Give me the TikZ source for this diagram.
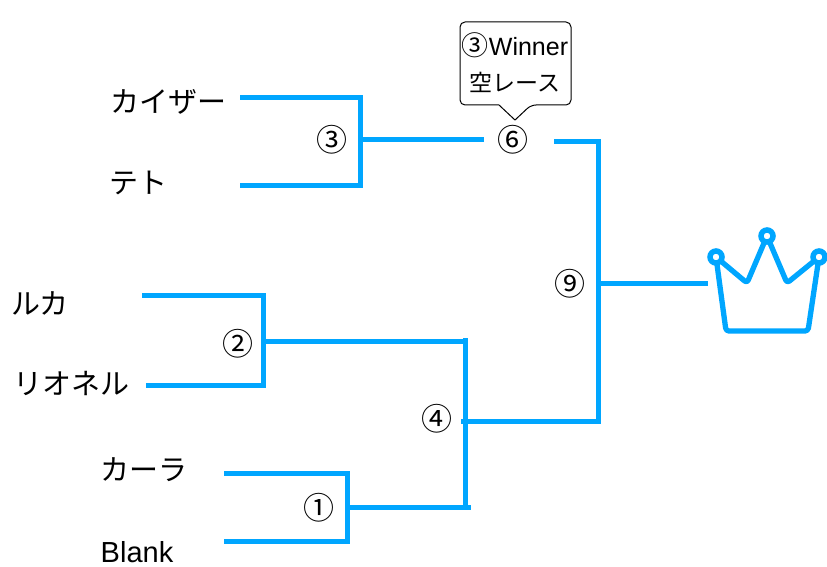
\documentclass[tikz,border=0pt]{standalone}
\usepackage{fontspec}
\setmainfont{Liberation Sans}
\newfontfamily\jpfont{Noto Sans CJK JP}
\definecolor{wireblue}{HTML}{00A6FF}
\tikzset{
  x=1pt,y=-1pt,
  wire/.style={draw=wireblue,line width=5pt,line cap=butt,line join=miter},
  crownline/.style={draw=wireblue,line width=5.3pt,line join=round,line cap=round,rounded corners=3pt},
  ball/.style={circle,draw=wireblue,line width=5.5pt,fill=white,minimum size=12pt,inner sep=0pt,outer sep=0pt},
  player/.style={inner sep=0pt,font=\jpfont\fontsize{29}{31}\selectfont},
  blankname/.style={inner sep=0pt,font=\fontsize{29}{31}\selectfont},
  seed/.style={inner sep=0pt,font=\jpfont\fontsize{31}{33}\selectfont},
  bubbletext/.style={inner sep=0pt,font=\jpfont\fontsize{23}{25}\selectfont},
}
\begin{document}
\begin{tikzpicture}
\useasboundingbox (0,0) rectangle (827,567);
% callout
\draw[black,line width=1pt,rounded corners=5pt,fill=white]
  (499,105) -- (460,105) -- (460,22) -- (571,22) -- (571,105) -- (531,105)
  [sharp corners] -- (515,120) -- cycle;
\node[bubbletext] (winner) at (515,45) {{\fontsize{27}{27}\selectfont ③}\fontspec{Liberation Sans}\fontsize{25}{27}\selectfont Winner};
\node[bubbletext] (sora) at (515,82) {空レース};
% names
\node[player] (kaiser) at (168,102) {カイザー};
\node[player] (teto) at (138,183) {テト};
\node[player] (luka) at (40,303) {ルカ};
\node[player] (lionel) at (71,383) {リオネル};
\node[player] (kara) at (144,470) {カーラ};
\node[blankname] (blank) at (137,552) {Blank};
% seeds
\node[seed] (m1) at (319,508) {①};
\node[seed] (m2) at (238,344) {②};
\node[seed] (m3) at (332,140) {③};
\node[seed] (m4) at (437,419) {④};
\node[seed] (m6) at (513,140) {⑥};
\node[seed] (m9) at (570,284) {⑨};
% connector ends
\coordinate (k1) at (240,98);
\coordinate (t1) at (240,185);
\coordinate (j3) at (360,140);
\coordinate (e3) at (484,140);
\coordinate (s6) at (554,142);
\coordinate (c9) at (598,421);
\coordinate (j9) at (598,283);
\coordinate (crownin) at (708,283);
\coordinate (l1) at (142,295);
\coordinate (r1) at (146,385);
\coordinate (j2) at (263,341);
\coordinate (b4t) at (465,338);
\coordinate (b4b) at (465,509);
\coordinate (j4) at (461,421);
\coordinate (k2) at (224,473);
\coordinate (b2) at (224,541);
\coordinate (j1) at (347,507);
\coordinate (e1) at (471,507);
% brackets
\draw[wire] (k1) -| (j3) |- (t1);
\draw[wire] (j3) -- (e3);
\draw[wire] (s6) -| (c9) -- (j4);
\draw[wire] (j9) -- (crownin);
\draw[wire] (l1) -| (j2) |- (r1);
\draw[wire] (j2) -- (j2 -| b4t);
\draw[wire] (b4t) -- (b4b);
\draw[wire] (k2) -| (j1) |- (b2);
\draw[wire] (j1) -- (e1);
% crown
\draw[crownline] (716,257) -- (747,283) -- (767,236) -- (787,283) -- (819,257) -- (808,331) -- (726,331) -- cycle;
\node[ball] (ballL) at (716,257) {};
\node[ball] (ballT) at (767,236) {};
\node[ball] (ballR) at (819,257) {};
\end{tikzpicture}
\end{document}
